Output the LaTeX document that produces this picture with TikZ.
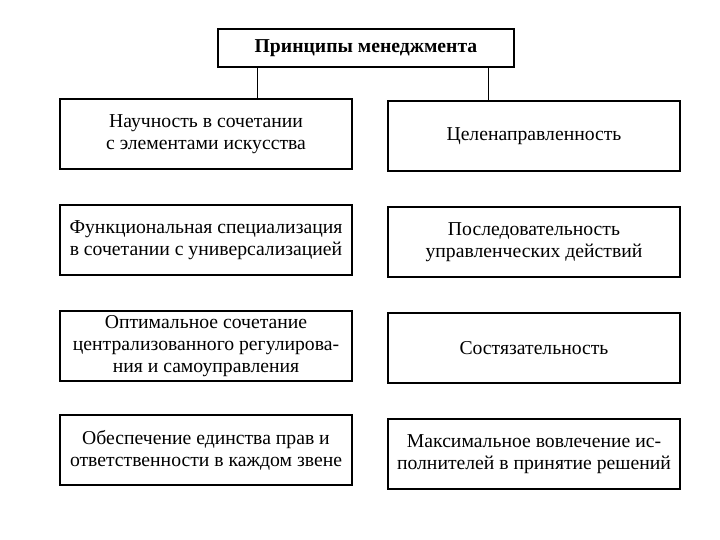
\documentclass[tikz,border=0pt]{standalone}
\usepackage{fontspec}
\setmainfont{Liberation Serif}
\usetikzlibrary{positioning}

\tikzset{
  principle/.style={draw, thick, minimum width=7.3cm, minimum height=1.75cm,
    align=center, inner sep=2pt, font=\fontsize{14}{15.5}\selectfont},
  header/.style={draw, very thick, minimum width=7.4cm, minimum height=0.95cm,
    font=\fontsize{14}{17}\selectfont\bfseries}
}

\begin{document}
\begin{tikzpicture}
  \useasboundingbox (0,0) rectangle (18,13.5);

  % Header
  \node[header] (title) at (9.15, 12.3) {Принципы менеджмента};

  % Left column
  \node[principle] (sci) at (5.15, 10.15) {Научность в сочетании\\с элементами искусства};
  \node[principle] (spec) at (5.15, 7.5) {Функциональная специализация\\в сочетании с универсализацией};
  \node[principle] (cent) at (5.15, 4.85) {Оптимальное сочетание\\централизованного регулирова-\\ния и самоуправления};
  \node[principle] (resp) at (5.15, 2.25) {Обеспечение единства прав и\\ответственности в каждом звене};

  % Right column
  \node[principle] (goal) at (13.35, 10.1) {Целенаправленность};
  \node[principle] (seq) at (13.35, 7.45) {Последовательность\\управленческих действий};
  \node[principle] (comp) at (13.35, 4.8) {Состязательность};
  \node[principle] (part) at (13.35, 2.15) {Максимальное вовлечение ис-\\полнителей в принятие решений};

  % Links
  \draw[thick] ([xshift=1cm]title.south west) -- ([xshift=1cm]title.south west |- sci.north);
  \draw[thick] ([xshift=-0.65cm]title.south east) -- ([xshift=-0.65cm]title.south east |- goal.north);
\end{tikzpicture}
\end{document}
